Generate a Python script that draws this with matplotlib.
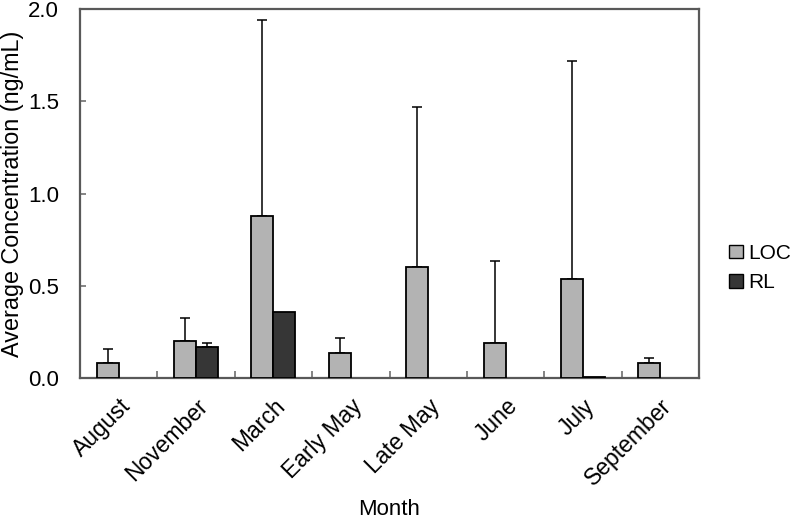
import matplotlib
matplotlib.use("Agg")
import matplotlib.pyplot as plt
import matplotlib.transforms as mtransforms
import numpy as np

months = ["August", "November", "March", "Early May", "Late May", "June", "July", "September"]
loc_mean = [0.083, 0.202, 0.876, 0.137, 0.603, 0.191, 0.538, 0.080]
loc_err = [0.072, 0.123, 1.064, 0.080, 0.867, 0.443, 1.182, 0.027]
rl_mean = [0.0, 0.166, 0.359, 0.0, 0.0, 0.0, 0.005, 0.0]
rl_err = [0.0, 0.022, 0.0, 0.0, 0.0, 0.0, 0.0, 0.0]
yticks = [0.0, 0.5, 1.0, 1.5, 2.0]

plt.rcParams['font.family'] = ['Liberation Sans', 'DejaVu Sans']

fig = plt.figure(figsize=(7.95, 5.21), dpi=100)
ax = fig.add_axes([80/795, 1-378/521, (699-80)/795, (378-9)/521])

x = np.arange(len(months))
w = 0.285
c_loc = '#b3b3b3'
c_rl = '#363636'

ax.bar(x - w/2, loc_mean, w, color=c_loc, edgecolor='black', linewidth=1.3, label='LOC', zorder=3)
rl_arr = np.array(rl_mean)
rl_mask = rl_arr > 0
ax.bar((x + w/2)[rl_mask], rl_arr[rl_mask], w, color=c_rl, edgecolor='black',
       linewidth=1.3, label='RL', zorder=3)

lo = np.zeros(len(months))
ax.errorbar(x - w/2, loc_mean, yerr=[lo, loc_err], fmt='none', ecolor='black',
            elinewidth=1.1, capsize=3.5, capthick=1.1, zorder=2)
e_mask = np.array(rl_err) > 0
ax.errorbar((x + w/2)[e_mask], rl_arr[e_mask],
            yerr=[lo[e_mask], np.array(rl_err)[e_mask]], fmt='none', ecolor='black',
            elinewidth=1.1, capsize=3.5, capthick=1.1, zorder=2)

ax.set_xlim(-0.5, len(months) - 0.5)
ax.set_ylim(0, 2.0)
ax.set_yticks(yticks)
ax.set_yticklabels([f"{v:.1f}" for v in yticks], fontsize=16)
ax.set_xticks(x)
ax.set_xticklabels(months, fontsize=16.5, rotation=45, ha='right', rotation_mode='anchor', va='top')
ax.set_xticks(np.arange(0.5, len(months) - 0.5, 1), minor=True)

offset = mtransforms.ScaledTranslation(-8/100, 0, fig.dpi_scale_trans)
for lbl in ax.get_xticklabels():
    lbl.set_transform(lbl.get_transform() + offset)

ax.tick_params(axis='x', which='major', length=0, pad=12)
ax.tick_params(axis='x', which='minor', direction='in', length=5, color='#707070', width=1.2)
ax.tick_params(axis='y', direction='in', length=4, color='#707070', width=1.2, pad=15)

for s in ax.spines.values():
    s.set_color('#595959')
    s.set_linewidth(1.6)

ax.set_xlabel("Month", fontsize=16, labelpad=6)
ax.set_ylabel("Average Concentration (ng/mL)", fontsize=16.8, labelpad=3)

leg = fig.legend(loc='center left', bbox_to_anchor=(729/795, 1-268/521), frameon=False,
                 fontsize=15, handlelength=0.65, handleheight=0.65, handletextpad=0.25,
                 labelspacing=0.5, borderpad=0, borderaxespad=0)
for h in leg.legend_handles:
    h.set_linewidth(1.0)

fig.savefig("out.png", dpi=100)
